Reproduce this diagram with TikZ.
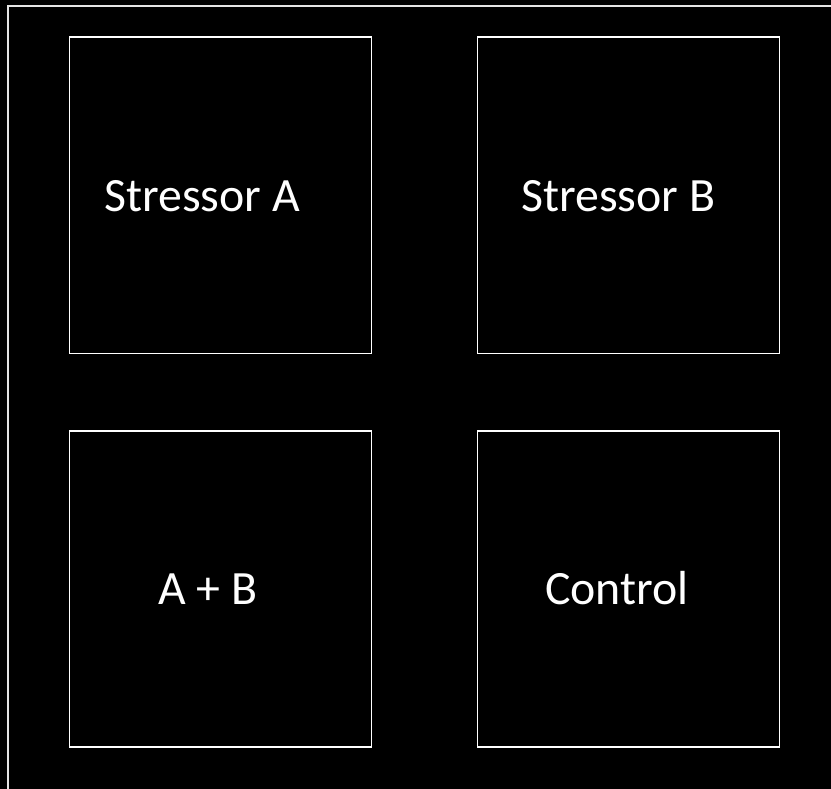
\documentclass[tikz,border=0pt]{standalone}
\usepackage{fontspec}
\setmainfont{Carlito}
\begin{document}
\begin{tikzpicture}[x=1pt,y=-1pt,
  cell/.style={draw=white,line width=1.5pt,minimum width=302pt,minimum height=316pt,inner sep=0pt,anchor=north west},
  lbl/.style={text=white,font=\fontsize{47.8}{52}\selectfont,anchor=base west,inner sep=0pt}]
\useasboundingbox (0,0) rectangle (831,789);
\fill[black] (0,0) rectangle (831,789);
\begin{scope}
\clip (0,0) rectangle (831,789);
\draw[white!90!black,line width=2pt] (8,810) -- (8,6.5) -- (850,6.5);
\end{scope}
\node[cell] (sa) at (68.5,36.5) {};
\node[cell] (sb) at (476.5,36.5) {};
\node[cell] (ab) at (68.5,430) {};
\node[cell] (ct) at (476.5,430) {};
\node[lbl] (tsa) at (104,212) {Stressor A};
\node[lbl] (tsb) at (521,212) {Stressor B};
\node[lbl] (tab) at (158,604) {A + B};
\node[lbl] (tct) at (545,604) {Control};
\end{tikzpicture}
\end{document}
